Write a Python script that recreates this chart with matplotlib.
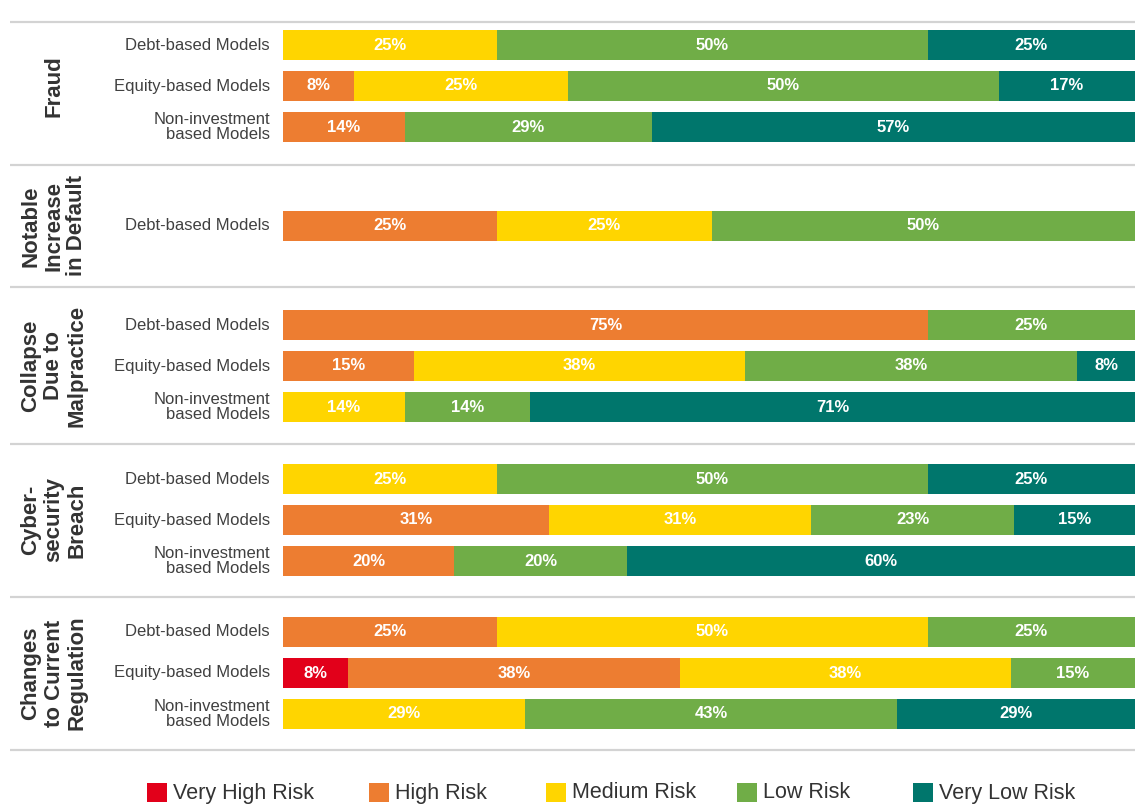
import numpy as np
import matplotlib.pyplot as plt
from matplotlib.patches import Rectangle

plt.rcParams['font.family'] = ['Liberation Sans', 'DejaVu Sans']

# sections (top to bottom) and their rows
sections = ["Fraud", "Notable\nIncrease\nin Default", "Collapse\nDue to\nMalpractice",
            "Cyber-\nsecurity\nBreach", "Changes\nto Current\nRegulation"]
rows_per_section = [3, 1, 3, 3, 3]
row_labels = ["Debt-based Models", "Equity-based Models", "Non-investment\nbased Models",
              "Debt-based Models",
              "Debt-based Models", "Equity-based Models", "Non-investment\nbased Models",
              "Debt-based Models", "Equity-based Models", "Non-investment\nbased Models",
              "Debt-based Models", "Equity-based Models", "Non-investment\nbased Models"]

risk_names = ["Very High Risk", "High Risk", "Medium Risk", "Low Risk", "Very Low Risk"]
risk_colors = ["#E2001A", "#ED7D31", "#FFD500", "#70AD47", "#00766C"]

# bar shares (% of row)
very_high = [0, 0, 0, 0, 0, 0, 0, 0, 0, 0, 0, 7.6, 0]
high = [0, 8.3, 14.3, 25.1, 75.7, 15.4, 0, 0, 31.2, 20.1, 25.1, 39.0, 0]
medium = [25.1, 25.2, 0, 25.2, 0, 38.8, 14.3, 25.1, 30.8, 0, 50.6, 38.8, 28.4]
low = [50.6, 50.5, 29.0, 49.7, 24.3, 39.0, 14.7, 50.6, 23.8, 20.3, 24.3, 14.6, 43.7]
very_low = [24.3, 16.0, 56.7, 0, 0, 6.8, 71.0, 24.3, 14.2, 59.6, 0, 0, 27.9]

# printed labels
very_high_lbl = [0, 0, 0, 0, 0, 0, 0, 0, 0, 0, 0, 8, 0]
high_lbl = [0, 8, 14, 25, 75, 15, 0, 0, 31, 20, 25, 38, 0]
medium_lbl = [25, 25, 0, 25, 0, 38, 14, 25, 31, 0, 50, 38, 29]
low_lbl = [50, 50, 29, 50, 25, 38, 14, 50, 23, 20, 25, 15, 43]
very_low_lbl = [25, 17, 57, 0, 0, 8, 71, 25, 15, 60, 0, 0, 29]

W, H = 1135, 807
fig = plt.figure(figsize=(W / 100, H / 100), dpi=100)

# background axes in pixel coordinates for separators, labels and legend
bg = fig.add_axes([0, 0, 1, 1])
bg.set_xlim(0, W)
bg.set_ylim(H, 0)
bg.axis('off')

ax = fig.add_axes([283 / W, 0, 852 / W, 1])
ax.set_xlim(0, 100)
ax.set_ylim(H, 0)
ax.axis('off')

# layout (pixels)
separators = [22, 165, 287, 444, 597, 750]
section_centers = [86, 226, 366, 520, 673]
row_step = 41
bar_h = 30

row_y = []
for c, n in zip(section_centers, rows_per_section):
    for i in range(n):
        row_y.append(c + (i - (n - 1) / 2) * row_step)
row_y = np.array(row_y)

bg.hlines(separators, 10, W, color='#d3d3d3', lw=1.6)

for c, name in zip(section_centers, sections):
    bg.text(54, c, name, rotation=90, ha='center', va='center', fontsize=16,
            fontweight='bold', color='#333333', linespacing=1.12, multialignment='center')

for y, lab in zip(row_y, row_labels):
    bg.text(270, y, lab, ha='right', va='center', fontsize=12, color='#404040',
            linespacing=0.95, multialignment='right')

series = [very_high, high, medium, low, very_low]
series_lbl = [very_high_lbl, high_lbl, medium_lbl, low_lbl, very_low_lbl]
left = np.zeros(len(row_y))
for vals, lbls, col in zip(series, series_lbl, risk_colors):
    vals = np.array(vals, dtype=float)
    ax.barh(row_y, vals, left=left, height=bar_h, color=col, linewidth=0)
    for y, l0, v, lb in zip(row_y, left, vals, lbls):
        if v > 0:
            ax.text(l0 + v / 2, y, f"{lb}%", ha='center', va='center', color='white',
                    fontsize=12, fontweight='bold')
    left += vals

# legend
legend_x = [147, 369, 546, 737, 913]
for x, name, col in zip(legend_x, risk_names, risk_colors):
    bg.add_patch(Rectangle((x, 783), 20, 19, color=col, lw=0))
    bg.text(x + 26, 793, name, ha='left', va='center', fontsize=15.5, color='#333333')

fig.savefig('out.png', dpi=100)
